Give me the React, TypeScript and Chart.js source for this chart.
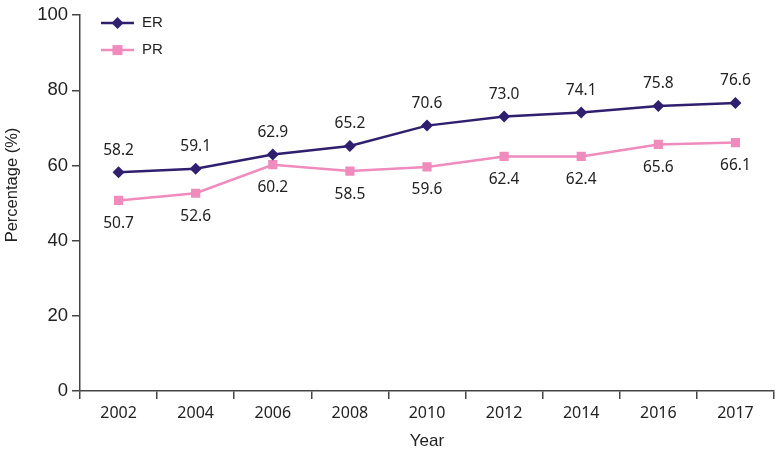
import React, { useEffect, useRef } from "react";
import { Chart, registerables } from "chart.js";

Chart.register(...registerables);

const years = ["2002", "2004", "2006", "2008", "2010", "2012", "2014", "2016", "2017"];
const erValues = [58.2, 59.1, 62.9, 65.2, 70.6, 73.0, 74.1, 75.8, 76.6];
const prValues = [50.7, 52.6, 60.2, 58.5, 59.6, 62.4, 62.4, 65.6, 66.1];
const yTicks = [0, 20, 40, 60, 80, 100];
const yTitle = "Percentage (%)";

const ER_COLOR = "#2f1f6e";
const PR_COLOR = "#ef8bbd";
const TEXT_COLOR = "#222222";
const AXIS_COLOR = "#444444";
const LABEL_FONT = "15.5px 'Noto Sans', 'Liberation Sans', sans-serif";

const labelsPlugin = {
  id: "valueLabels",
  afterDatasetsDraw(chart: any) {
    const ctx = chart.ctx;
    ctx.save();
    ctx.font = LABEL_FONT;
    ctx.fillStyle = TEXT_COLOR;
    ctx.textAlign = "center";
    ctx.textBaseline = "middle";
    chart.data.datasets.forEach((ds: any, di: number) => {
      const meta = chart.getDatasetMeta(di);
      meta.data.forEach((pt: any, i: number) => {
        const v = ds.data[i] as number;
        const dy = di === 0 ? -22 : 23;
        ctx.fillText(v.toFixed(1), pt.x, pt.y + dy);
      });
    });
    ctx.restore();
  },
};

const yTitlePlugin = {
  id: "yTitle",
  afterDraw(chart: any) {
    const ctx = chart.ctx;
    ctx.save();
    ctx.translate(12, 185);
    ctx.rotate(-Math.PI / 2);
    ctx.font = "16.5px 'Liberation Sans', Arial, sans-serif";
    ctx.fillStyle = TEXT_COLOR;
    ctx.textAlign = "center";
    ctx.textBaseline = "middle";
    ctx.fillText(yTitle, 0, 0);
    ctx.restore();
  },
};

const legendPlugin = {
  id: "customLegend",
  afterDraw(chart: any) {
    const ctx = chart.ctx;
    const left = chart.chartArea.left;
    const top = chart.chartArea.top;
    const items = chart.data.datasets.map((ds: any) => ({
      label: ds.label,
      color: ds.borderColor,
      style: ds.pointStyle,
    }));
    ctx.save();
    items.forEach((it: any, i: number) => {
      const y = top + 8 + i * 27;
      const x0 = left + 21;
      const x1 = left + 54;
      ctx.strokeStyle = it.color;
      ctx.lineWidth = 2.5;
      ctx.beginPath();
      ctx.moveTo(x0, y);
      ctx.lineTo(x1, y);
      ctx.stroke();
      ctx.fillStyle = it.color;
      const cx = (x0 + x1) / 2;
      if (it.style === "rectRot") {
        ctx.beginPath();
        ctx.moveTo(cx, y - 6);
        ctx.lineTo(cx + 6, y);
        ctx.lineTo(cx, y + 6);
        ctx.lineTo(cx - 6, y);
        ctx.closePath();
        ctx.fill();
      } else {
        ctx.fillRect(cx - 5, y - 5, 10, 10);
      }
      ctx.fillStyle = TEXT_COLOR;
      ctx.font = "15px 'Liberation Sans', Arial, sans-serif";
      ctx.textAlign = "left";
      ctx.textBaseline = "middle";
      ctx.fillText(it.label, x1 + 8, y);
    });
    ctx.restore();
  },
};

export default function App() {
  const canvasRef = useRef<HTMLCanvasElement | null>(null);

  useEffect(() => {
    document.body.style.margin = "0";
    const canvas = canvasRef.current;
    if (!canvas) return;
    const chart = new Chart(canvas, {
      type: "line",
      data: {
        labels: years,
        datasets: [
          {
            label: "ER",
            data: erValues,
            borderColor: ER_COLOR,
            backgroundColor: ER_COLOR,
            borderWidth: 2.5,
            pointStyle: "rectRot",
            pointRadius: 6,
            pointBorderWidth: 0,
            tension: 0,
          },
          {
            label: "PR",
            data: prValues,
            borderColor: PR_COLOR,
            backgroundColor: PR_COLOR,
            borderWidth: 2.5,
            pointStyle: "rect",
            pointRadius: 6.5,
            pointBorderWidth: 0,
            tension: 0,
          },
        ],
      },
      options: {
        animation: false,
        responsive: false,
        maintainAspectRatio: false,
        layout: { padding: { top: 12, right: 7, left: 0, bottom: 0 } },
        plugins: {
          legend: { display: false },
          tooltip: { enabled: false },
        },
        scales: {
          x: {
            offset: true,
            grid: {
              offset: true,
              drawOnChartArea: false,
              drawTicks: true,
              tickLength: 8,
              color: AXIS_COLOR,
              lineWidth: 1.5,
            },
            border: { display: true, color: AXIS_COLOR, width: 1.5 },
            ticks: {
              color: TEXT_COLOR,
              font: { family: "'Noto Sans', sans-serif", size: 16 },
              padding: 5,
              maxRotation: 0,
            },
            title: {
              display: true,
              text: "Year",
              color: TEXT_COLOR,
              font: { family: "'Liberation Sans', Arial, sans-serif", size: 17 },
              padding: { top: 4, bottom: 0 },
            },
            afterFit(scale: any) {
              scale.height = 61;
            },
          },
          y: {
            min: 0,
            max: 100,
            afterBuildTicks(scale: any) {
              scale.ticks = yTicks.map((v) => ({ value: v }));
            },
            grid: {
              drawOnChartArea: false,
              drawTicks: true,
              tickLength: 8,
              color: AXIS_COLOR,
              lineWidth: 1.5,
            },
            border: { display: true, color: AXIS_COLOR, width: 1.5 },
            ticks: {
              color: TEXT_COLOR,
              font: { family: "'Liberation Sans', Arial, sans-serif", size: 18.5 },
              padding: 4,
            },
            title: { display: false },
            afterFit(scale: any) {
              scale.width = 80;
            },
          },
        },
      },
      plugins: [labelsPlugin, legendPlugin, yTitlePlugin],
    });
    return () => chart.destroy();
  }, []);

  return (
    <div style={{ position: "absolute", left: 0, top: 0, width: 781, height: 452 }}>
      <canvas ref={canvasRef} width={781} height={452} style={{ width: 781, height: 452 }} />
    </div>
  );
}
